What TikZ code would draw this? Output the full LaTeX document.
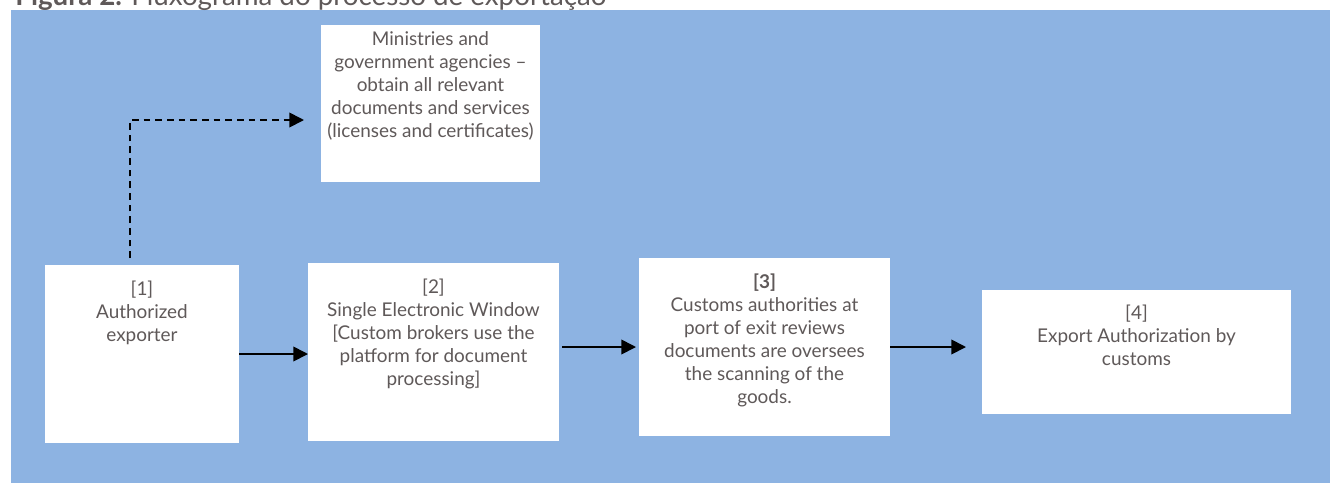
\documentclass[tikz,border=0pt]{standalone}
\usepackage{fontspec}
\setmainfont{Lato}
\usetikzlibrary{arrows.meta,positioning}

\definecolor{panel}{HTML}{8DB3E2}
\definecolor{txtgray}{HTML}{5F5959}

% box text: width, height, first baseline, lines
\newcommand{\boxtxt}[4]{\parbox[c][#2][t]{#1}{\centering\fontsize{14.2pt}{17.25pt}\selectfont\rule{0pt}{#3}#4}}

\begin{document}
\begin{tikzpicture}[->,>={Triangle[length=11pt,width=11pt]},x=0.75pt,y=-0.75pt,
                    line width=1.3pt]
\tikzstyle{stepbox}=[rectangle,fill=white,draw=none,inner sep=0pt,outer sep=0pt,text=txtgray]
\tikzstyle{dashline}=[dash pattern=on 5pt off 3.75pt]

\useasboundingbox (0,0) rectangle (1330,483);
\clip (0,0) rectangle (1330,483);
\fill[panel] (11,9.5) rectangle (1330,483);

\node[anchor=base west, text=txtgray, font=\fontsize{20.8pt}{24pt}\selectfont] (title) at (10,5)
  {\textbf{Figura 2.} Fluxograma do processo de exportação};

\node[stepbox, anchor=north west] (exporter) at (45,265)
  {\boxtxt{145.5pt}{133.5pt}{22.5pt}{[1]\\Authorized\\exporter}};
\node[stepbox] (window) [right=51.75pt of exporter, yshift=1.5pt]
  {\boxtxt{188.25pt}{133.5pt}{22.5pt}{[2]\\Single Electronic Window\\{[}Custom brokers use the\\platform for document\\processing]}};
\node[stepbox] (customs) [right=60pt of window, yshift=3.75pt]
  {\boxtxt{188.25pt}{133.5pt}{23pt}{\textbf{[3]}\\Customs authorities at\\port of exit reviews\\documents are oversees\\the scanning of the\\goods.}};
\node[stepbox] (auth) [right=69pt of customs, yshift=-3.75pt]
  {\boxtxt{231.75pt}{93pt}{21.75pt}{[4]\\Export Authorization by\\customs}};
\node[stepbox] (ministries) [above=60.75pt of window, xshift=-2.25pt]
  {\boxtxt{164.25pt}{117.75pt}{15pt}{Ministries and\\government agencies --\\obtain all relevant\\documents and services\\(licenses and certificates)}};

\draw[->] (exporter) -- (exporter -| window.west);
\draw[->, shorten <=2.25pt, shorten >=2.25pt] (window.east |- customs) -- (customs);
\draw[->, shorten >=12pt] (customs) -- (customs -| auth.west);

\draw[->, dashline] ([xshift=-9pt,yshift=5.25pt]exporter.north)
  |- ([xshift=-12.75pt,yshift=-12.375pt]ministries.west);
\end{tikzpicture}
\end{document}
